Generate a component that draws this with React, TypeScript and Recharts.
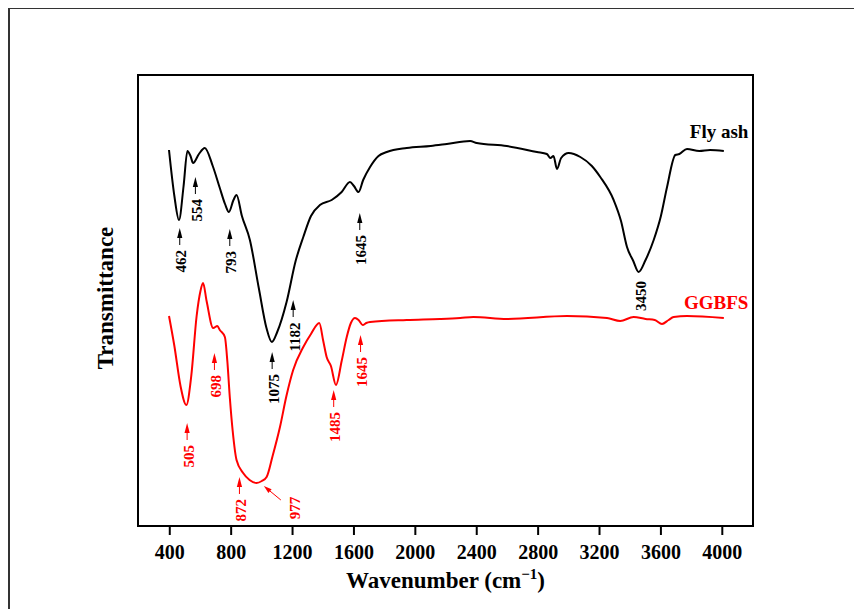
import React from 'react';
import { ComposedChart, Line, Scatter, XAxis, YAxis, ReferenceArea } from 'recharts';

// Fly ash spectrum: wavenumber (cm-1) and transmittance (arbitrary units)
const flyAshWn = [395, 430, 460, 490, 515, 535, 552, 590, 628, 680, 726, 760, 785, 815, 835, 870, 922, 980, 1030, 1065, 1100, 1161, 1220, 1270, 1320, 1378, 1455, 1520, 1574, 1600, 1630, 1660, 1705, 1760, 1814, 1944, 2100, 2205, 2357, 2400, 2596, 2792, 2857, 2880, 2900, 2923, 2950, 2999, 3075, 3150, 3205, 3292, 3340, 3379, 3420, 3455, 3500, 3553, 3600, 3640, 3694, 3720, 3770, 3850, 3920, 4010];
const flyAshT = [376, 330, 306, 340, 375, 370, 363, 372, 378, 360, 338, 322, 314, 326, 331, 310, 286, 238, 198, 184, 194, 224, 265, 289, 310, 321, 326, 334, 344, 340, 334, 346, 359, 370, 374, 378, 380, 382, 385, 383, 380, 374, 372, 368, 370, 357, 368, 373, 369, 360, 349, 326, 305, 279, 265, 254, 266, 286, 310, 339, 371, 372, 377, 375, 376, 375];

// GGBFS spectrum
const ggbfsWn = [395, 430, 470, 508, 540, 575, 600, 617, 640, 683, 710, 726, 759, 775, 791, 810, 835, 878, 920, 965, 1000, 1031, 1070, 1118, 1160, 1204, 1270, 1320, 1374, 1400, 1422, 1450, 1483, 1520, 1553, 1580, 1607, 1630, 1657, 1680, 1705, 1944, 2160, 2292, 2378, 2596, 2988, 3249, 3335, 3422, 3500, 3560, 3607, 3650, 3683, 3770, 4010];
const ggbfsT = [210, 180, 140, 121, 150, 210, 235, 243, 225, 198, 200, 196, 189, 165, 129, 95, 66, 53, 46, 43, 45, 49, 70, 99, 130, 156, 179, 192, 203, 185, 169, 160, 141, 165, 189, 203, 208, 206, 201, 203, 204, 206, 207, 208, 209, 207, 210, 208, 205, 209, 207, 206, 202, 206, 209, 210, 208];

// Peak annotations: label, wavenumber at arrow, arrow tip level, series
const peakLabels = ['462', '554', '793', '1645', '1182', '1075', '3450', '505', '698', '872', '977', '1485', '1645'];
const peakWn = [465, 567, 791, 1638, 1204, 1067, 3462, 513, 691, 854, 1013, 1468, 1643];
const peakT = [298, 349, 297, 313, 226, 174, 250, 103, 173, 49, 40, 136, 191];
const peakSeries = ['fly', 'fly', 'fly', 'fly', 'fly', 'fly', 'flyNoArrow', 'gg', 'gg', 'gg', 'ggDiag', 'gg', 'gg'];

// Series names
const seriesNames = ['Fly ash', 'GGBFS'];
const seriesNameWn = [4170, 4170];
const seriesNameT = [395, 224];

const xTicks = [400, 800, 1200, 1600, 2000, 2400, 2800, 3200, 3600, 4000];

const flyData = flyAshWn.map((x, i) => ({ x, y: flyAshT[i] }));
const ggData = ggbfsWn.map((x, i) => ({ x, y: ggbfsT[i] }));
const peakData = peakLabels.map((label, i) => ({ x: peakWn[i], y: peakT[i], label, kind: peakSeries[i] }));
const nameData = seriesNames.map((label, i) => ({ x: seriesNameWn[i], y: seriesNameT[i], label }));

const FONT = '"Liberation Serif", "Times New Roman", serif';

const PeakShape = (props: any) => {
  const { cx, cy, payload } = props;
  if (cx == null || cy == null) return null;
  const isRed = payload.kind.startsWith('gg');
  const color = isRed ? '#ff0000' : '#000000';
  const fs = 15;
  const textLen = payload.label.length * fs * 0.5;
  if (payload.kind === 'ggDiag') {
    const tx = cx + 17;
    const ty = cy + 14;
    const ang = Math.atan2(ty - cy, tx - cx);
    const hx = cx + Math.cos(ang) * 8;
    const hy = cy + Math.sin(ang) * 8;
    const px = -Math.sin(ang) * 2.5;
    const py = Math.cos(ang) * 2.5;
    const txtX = cx + 31;
    const txtY = cy + 22;
    return (
      <g>
        <line x1={hx} y1={hy} x2={tx} y2={ty} stroke={color} strokeWidth={1} />
        <polygon points={`${cx},${cy} ${hx + px},${hy + py} ${hx - px},${hy - py}`} fill={color} />
        <text x={txtX} y={txtY} transform={`rotate(-90 ${txtX} ${txtY})`} textAnchor="middle" dominantBaseline="central" fontFamily={FONT} fontSize={fs} fontWeight="bold" fill={color}>{payload.label}</text>
      </g>
    );
  }
  const noArrow = payload.kind === 'flyNoArrow';
  const arrowLen = noArrow ? 0 : 17;
  const txtX = cx + 1.5;
  const txtY = cy + arrowLen + 5 + textLen / 2;
  return (
    <g>
      {!noArrow && (
        <g>
          <polygon points={`${cx},${cy} ${cx - 2.6},${cy + 10} ${cx + 2.6},${cy + 10}`} fill={color} />
          <line x1={cx} y1={cy + 9} x2={cx} y2={cy + arrowLen} stroke={color} strokeWidth={1} />
        </g>
      )}
      <text x={txtX} y={txtY} transform={`rotate(-90 ${txtX} ${txtY})`} textAnchor="middle" dominantBaseline="central" fontFamily={FONT} fontSize={fs} fontWeight="bold" fill={color}>{payload.label}</text>
    </g>
  );
};

const NameShape = (props: any) => {
  const { cx, cy, payload } = props;
  if (cx == null || cy == null) return null;
  const color = payload.label === 'GGBFS' ? '#ff0000' : '#000000';
  return (
    <text x={cx} y={cy} textAnchor="end" dominantBaseline="central" fontFamily={FONT} fontSize={19} fontWeight="bold" fill={color}>{payload.label}</text>
  );
};

const XTitle = (props: any) => {
  const vb = props.viewBox || {};
  const cx = (vb.x || 0) + (vb.width || 0) / 2;
  const y = (vb.y || 0) + 62;
  return (
    <text x={cx} y={y} textAnchor="middle" fontFamily={FONT} fontSize={23} fontWeight="bold" fill="#000">
      Wavenumber (cm<tspan dy={-9} fontSize={15}>−1</tspan><tspan dy={9}>)</tspan>
    </text>
  );
};

const YTitle = (props: any) => {
  const x = 105;
  const y = 290;
  return (
    <text x={x} y={y} transform={`rotate(-90 ${x} ${y})`} textAnchor="middle" fontFamily={FONT} fontSize={23} fontWeight="bold" fill="#000">Transmittance</text>
  );
};

export default function App() {
  return (
    <div style={{ position: 'relative', width: 854, height: 601, overflow: 'hidden' }}>
      <div style={{ position: 'absolute', left: 0, top: -1, width: 900, height: 700, borderLeft: '2px solid #333', borderTop: '2px solid #333' }} />
      <div style={{ position: 'absolute', left: 0, top: 0 }}>
        <ComposedChart width={854} height={601} margin={{ top: 67, right: 109, bottom: 0, left: 0 }}>
          <XAxis
            type="number"
            dataKey="x"
            domain={[193, 4200]}
            ticks={xTicks}
            allowDataOverflow
            height={83}
            tickSize={9}
            tickMargin={10}
            axisLine={{ stroke: '#000', strokeWidth: 2 }}
            tickLine={{ stroke: '#000', strokeWidth: 2 }}
            tick={{ fontFamily: FONT, fontSize: 20, fontWeight: 'bold', fill: '#000' }}
            label={<XTitle />}
          />
          <YAxis
            type="number"
            dataKey="y"
            domain={[0, 451]}
            allowDataOverflow
            width={130}
            tick={false}
            tickLine={false}
            axisLine={false}
            label={<YTitle />}
          />
          <ReferenceArea x1={193} x2={4200} y1={0} y2={451} fill="none" stroke="#000" strokeWidth={2} ifOverflow="visible" />
          <Line data={flyData} dataKey="y" type="monotone" stroke="#000" strokeWidth={2} dot={false} isAnimationActive={false} />
          <Line data={ggData} dataKey="y" type="monotone" stroke="#ff0000" strokeWidth={2} dot={false} isAnimationActive={false} />
          <Scatter data={peakData} dataKey="y" shape={<PeakShape />} isAnimationActive={false} />
          <Scatter data={nameData} dataKey="y" shape={<NameShape />} isAnimationActive={false} />
        </ComposedChart>
      </div>
    </div>
  );
}
